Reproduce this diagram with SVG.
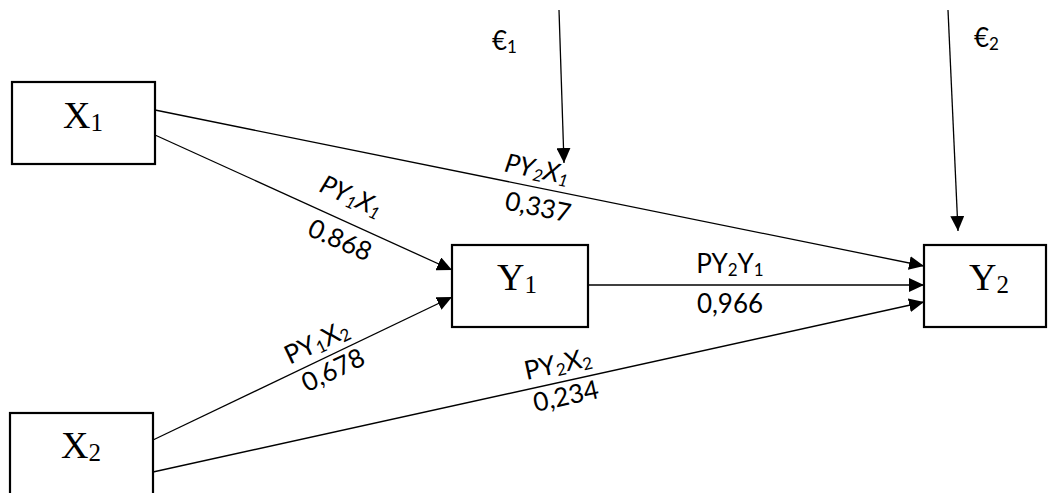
<svg xmlns="http://www.w3.org/2000/svg" width="1048" height="493" viewBox="0 0 1048 493">
<style>
.box{fill:#fff;stroke:#000;stroke-width:2.2}
.node{font-family:"Liberation Serif","Times New Roman",serif;font-size:38px;fill:#000}
.sub{font-size:25px}
.lab{font-family:Lato,"Liberation Sans",sans-serif;font-size:26px;fill:#000}
.ls{font-size:17px}
.it{font-style:italic}
.conn line{stroke:#000;stroke-width:1.3;fill:none;marker-end:url(#ah)}
</style>
<defs>
<marker id="ah" markerUnits="userSpaceOnUse" markerWidth="16" markerHeight="14" refX="15" refY="7" orient="auto">
<path d="M0,0 L15,7 L0,14 z" fill="#000"/>
</marker>
</defs>
<rect width="1048" height="493" fill="#fff"/>
<g id="connectors" class="conn">
<line x1="155" y1="110" x2="924" y2="266"/>
<line x1="155" y1="135" x2="452" y2="270"/>
<line x1="153" y1="440" x2="452" y2="297"/>
<line x1="153" y1="472" x2="924" y2="302"/>
<line x1="588" y1="285" x2="924" y2="285"/>
<line x1="559" y1="10" x2="564" y2="163"/>
<line x1="948" y1="10" x2="958" y2="231"/>
</g>
<g id="X1"><rect class="box" x="12" y="82" width="143" height="82"/><text class="node" x="83" y="128" text-anchor="middle">X<tspan class="sub" dy="3">1</tspan></text></g>
<g id="X2"><rect class="box" x="10" y="413" width="143" height="90"/><text class="node" x="81" y="458" text-anchor="middle">X<tspan class="sub" dy="3">2</tspan></text></g>
<g id="Y1"><rect class="box" x="452" y="245" width="136" height="82"/><text class="node" x="517" y="290" text-anchor="middle">Y<tspan class="sub" dy="3">1</tspan></text></g>
<g id="Y2"><rect class="box" x="924" y="245" width="122" height="82"/><text class="node" x="989" y="290" text-anchor="middle">Y<tspan class="sub" dy="3">2</tspan></text></g>
<g id="labels" class="lab">
<text x="492" y="50">€<tspan class="ls" dy="3">1</tspan></text>
<text x="974" y="47">€<tspan class="ls" dy="3">2</tspan></text>
<g transform="translate(351,197) rotate(24)"><text class="it" x="0" y="8" text-anchor="middle">PY<tspan class="ls" dy="3">1</tspan><tspan dy="-3">X</tspan><tspan class="ls" dy="3">1</tspan></text></g>
<g transform="translate(340,240) rotate(24)"><text x="0" y="9" text-anchor="middle">0.868</text></g>
<g transform="translate(537,170) rotate(11.5)"><text class="it" x="0" y="8" text-anchor="middle">PY<tspan class="ls" dy="3">2</tspan><tspan dy="-3">X</tspan><tspan class="ls" dy="3">1</tspan></text></g>
<g transform="translate(538,207) rotate(11.5)"><text x="0" y="9" text-anchor="middle">0,337</text></g>
<g transform="translate(317,343) rotate(-25.5)"><text x="0" y="8" text-anchor="middle">PY<tspan class="ls" dy="3">1</tspan><tspan dy="-3">X</tspan><tspan class="ls" dy="3">2</tspan></text></g>
<g transform="translate(333,370) rotate(-25.5)"><text x="0" y="9" text-anchor="middle">0,678</text></g>
<text x="730" y="273" text-anchor="middle">PY<tspan class="ls" dy="3">2</tspan><tspan dy="-3">Y</tspan><tspan class="ls" dy="3">1</tspan></text>
<text x="730" y="313" text-anchor="middle">0,966</text>
<g transform="translate(558,365) rotate(-12.4)"><text x="0" y="8" text-anchor="middle">PY<tspan class="ls" dy="3">2</tspan><tspan dy="-3">X</tspan><tspan class="ls" dy="3">2</tspan></text></g>
<g transform="translate(566,396) rotate(-12.4)"><text x="0" y="9" text-anchor="middle">0,234</text></g>
</g>
</svg>
